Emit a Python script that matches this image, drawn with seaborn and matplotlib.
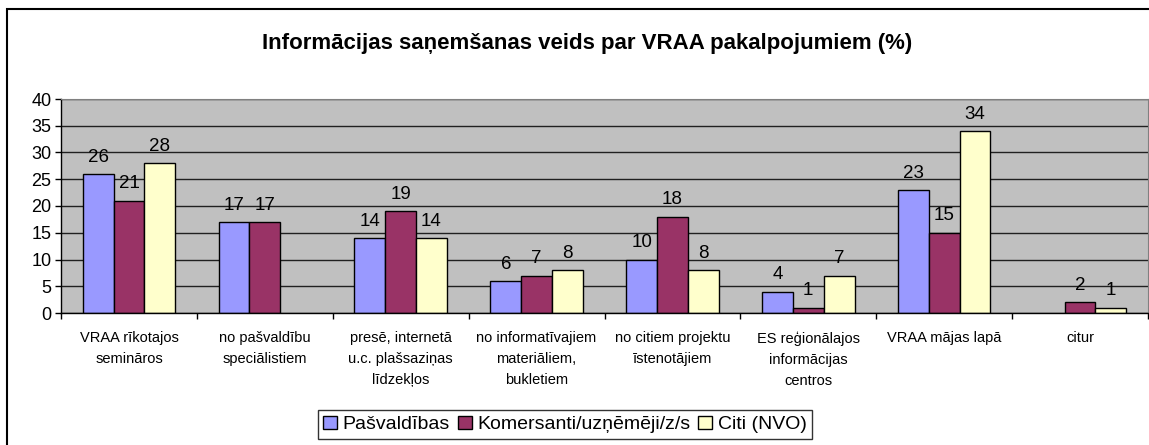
import numpy as np
import pandas as pd
import matplotlib
matplotlib.use("Agg")
import matplotlib.pyplot as plt
import seaborn as sns
from matplotlib.patches import Rectangle

categories = [
    "VRAA rīkotajos\nsemināros",
    "no pašvaldību\nspeciālistiem",
    "presē, internetā\nu.c. plašsaziņas\nlīdzekļos",
    "no informatīvajiem\nmateriāliem,\nbukletiem",
    "no citiem projektu\nīstenotājiem",
    "ES reģionālajos\ninformācijas\ncentros",
    "VRAA mājas lapā",
    "citur",
]
series = ["Pašvaldības", "Komersanti/uzņēmēji/z/s", "Citi (NVO)"]
pasvaldibas = [26, 17, 14, 6, 10, 4, 23, np.nan]
komersanti = [21, 17, 19, 7, 18, 1, 15, 2]
citi = [28, np.nan, 14, 8, 8, 7, 34, 1]
colors = ["#9999FF", "#993366", "#FFFFCC"]
yticks = [0, 5, 10, 15, 20, 25, 30, 35, 40]
title = "Informācijas saņemšanas veids par VRAA pakalpojumiem (%)"

rows = []
for s, vals in zip(series, [pasvaldibas, komersanti, citi]):
    for c, v in zip(categories, vals):
        rows.append({"cat": c, "series": s, "value": v})
df = pd.DataFrame(rows)

sns.set_style("white")
plt.rcParams["font.family"] = ["Liberation Sans", "DejaVu Sans"]
plt.rcParams["text.color"] = "black"
plt.rcParams["xtick.color"] = "black"
plt.rcParams["ytick.color"] = "black"
plt.rcParams["axes.labelcolor"] = "black"

fig = plt.figure(figsize=(11.49, 4.45), dpi=100)
ax = fig.add_axes([61/1149, 1-313/445, (1148-61)/1149, (313-99)/445])
ax.set_facecolor("#C0C0C0")

sns.barplot(data=df, x="cat", y="value", hue="series", hue_order=series,
            order=categories, palette=colors, width=0.68, edgecolor="black",
            linewidth=1, saturation=1, ax=ax, legend=True, errorbar=None)

for cont in ax.containers:
    labels = []
    for v in cont.datavalues:
        labels.append("" if np.isnan(v) else f"{v:.0f}")
    ax.bar_label(cont, labels=labels, padding=6, fontsize=13.5, color="black")

ax.set_ylim(0, 40)
ax.set_yticks(yticks)
ax.set_xlim(-0.5, len(categories) - 0.5)
ax.yaxis.grid(True, color="#202020", linewidth=1)
ax.set_axisbelow(True)
ax.set_xlabel("")
ax.set_ylabel("")
ax.tick_params(axis="y", labelsize=13, length=4, width=1, color="black",
               left=True, pad=3, labelcolor="black")
ax.tick_params(axis="x", which="major", length=0, labelsize=10.5, pad=13,
               labelcolor="black")
ax.set_xticks(np.arange(-0.5, len(categories) + 0.5, 1), minor=True)
ax.tick_params(axis="x", which="minor", length=4, width=1, color="black",
               bottom=True)
for lab in ax.get_xticklabels():
    lab.set_linespacing(1.65)
for side in ["top", "right"]:
    ax.spines[side].set_color("#808080")
for side in ["left", "bottom"]:
    ax.spines[side].set_color("black")
    ax.spines[side].set_linewidth(1)

leg = ax.legend(loc="upper center", bbox_to_anchor=(565/1149, 1-410/445),
                bbox_transform=fig.transFigure, ncol=3, frameon=True,
                fontsize=14, fancybox=False, edgecolor="black",
                handlelength=0.7, handleheight=0.7, handletextpad=0.3,
                columnspacing=0.4, borderpad=0.3, borderaxespad=0)
leg.get_frame().set_linewidth(1)
for t in leg.get_texts():
    t.set_color("black")

fig.text(587/1149, 1-43/445, title, ha="center", va="center",
         fontsize=16, fontweight="bold", color="black")

fig.patches.append(Rectangle((7/1149, -0.1), 1.2, 1-9/445+0.1,
                             transform=fig.transFigure, fill=False,
                             edgecolor="black", linewidth=1.5))

fig.savefig("out.png", dpi=100)
